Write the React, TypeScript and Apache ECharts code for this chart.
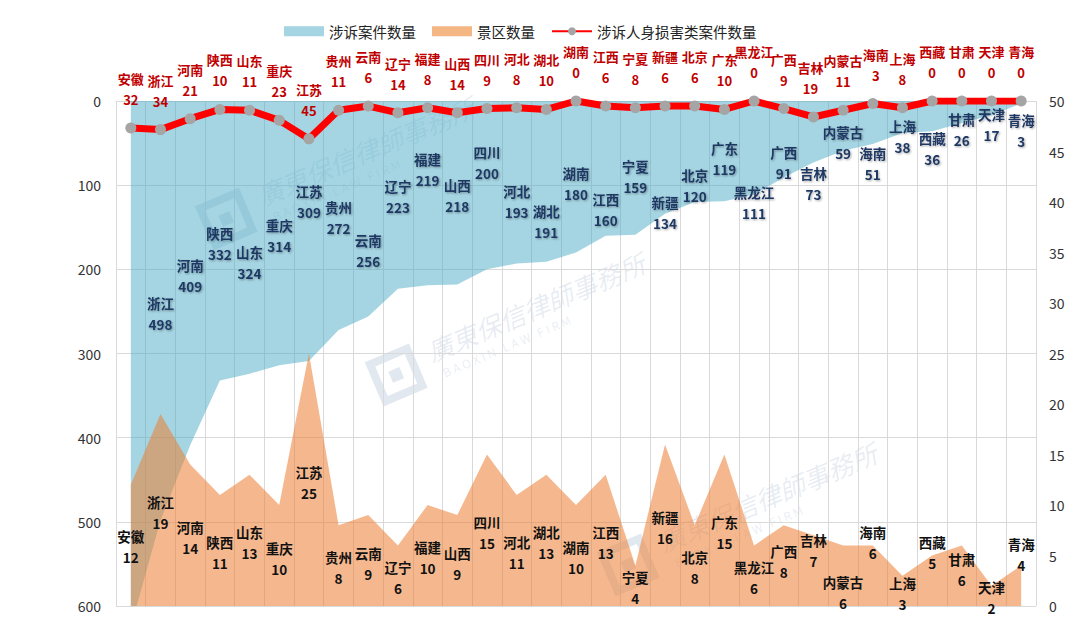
import React, { useEffect, useRef } from "react";
import * as echarts from "echarts";

const categories = [
  "安徽", "浙江", "河南", "陕西", "山东", "重庆", "江苏", "贵州", "云南", "辽宁", "福建",
  "山西", "四川", "河北", "湖北", "湖南", "江西", "宁夏", "新疆", "北京", "广东", "黑龙江",
  "广西", "吉林", "内蒙古", "海南", "上海", "西藏", "甘肃", "天津", "青海",
];

// 涉诉案件数量 (left axis, inverted)
const caseCounts = [
  625, 498, 409, 332, 324, 314, 309, 272, 256, 223, 219,
  218, 200, 193, 191, 180, 160, 159, 134, 120, 119, 111,
  91, 73, 59, 51, 38, 36, 26, 17, 3,
];

// 景区数量 (right axis)
const scenicCounts = [
  12, 19, 14, 11, 13, 10, 25, 8, 9, 6, 10,
  9, 15, 11, 13, 10, 13, 4, 16, 8, 15, 6,
  8, 7, 6, 6, 3, 5, 6, 2, 4,
];

// 涉诉人身损害类案件数量 (left axis, inverted)
const injuryCounts = [
  32, 34, 21, 10, 11, 23, 45, 11, 6, 14, 8,
  14, 9, 8, 10, 0, 6, 8, 6, 6, 10, 0,
  9, 19, 11, 3, 8, 0, 0, 0, 0,
];

const leftTicks = { min: 0, max: 600, interval: 100 };
const rightTicks = { min: 0, max: 50, interval: 5 };

// label placement (pixel offsets of label centre from the data point)
const caseLabelDy = [
  0, -207, -170, -137, -111, -130, -160, -112, -66, -92, -116,
  -89, -107, -62, -40, -69, -26, -58, -1, -17, -43, 8,
  -15, 21, -8, 20, 4, 17, 7, 9, 27,
];
const scenicLabelDy = [
  62, 98, 73, 58, 68, 53, 129, 42, 48, 32, 52,
  48, 78, 58, 68, 52, 68, 22, 83, 42, 78, 32,
  36, 15, 47, -3, 18, -3, 24, 12, -11,
];
const injuryLabelDy = -39;
const injuryLabelDx = [
  0, 0, 0, 0, 0, 0, 0, 0, 0, 0, 0,
  0, 0, 0, 0, 0, 0, 0, 0, 0, 0, 0,
  0, -3, 0, 3, 0, 0, 0, 0, 0,
];

const FONT = "'Noto Sans CJK SC', 'Noto Sans', sans-serif";

function watermark(x: number, y: number, rot: number) {
  return {
    type: "group",
    x,
    y,
    rotation: rot,
    silent: true,
    children: [
      {
        type: "rect",
        shape: { x: -58, y: -22, width: 40, height: 40 },
        style: { fill: "none", stroke: "rgba(70,110,160,0.16)", lineWidth: 8 },
      },
      {
        type: "rect",
        shape: { x: -44, y: -8, width: 12, height: 12 },
        style: { fill: "rgba(70,110,160,0.16)" },
      },
      {
        type: "text",
        x: 0,
        y: -24,
        style: {
          text: "廣東保信律師事務所",
          fontSize: 26,
          fontStyle: "italic",
          fontFamily: FONT,
          fill: "rgba(70,110,160,0.13)",
        },
      },
      {
        type: "text",
        x: 6,
        y: 8,
        style: {
          text: "B A O X I N   L A W   F I R M",
          fontSize: 12,
          fontFamily: FONT,
          fill: "rgba(70,110,160,0.13)",
        },
      },
    ],
  };
}

export default function App() {
  const ref = useRef<HTMLDivElement>(null);

  useEffect(() => {
    if (!ref.current) return;
    const chart = echarts.init(ref.current, null, { renderer: "svg" });

    const option = {
      animation: false,
      backgroundColor: "#ffffff",
      textStyle: { fontFamily: FONT },
      legend: {
        left: 279,
        top: 19,
        itemWidth: 40,
        itemHeight: 10,
        itemGap: 16,
        textStyle: { fontSize: 14.5, color: "#222", fontFamily: FONT },
        data: [
          { name: "涉诉案件数量", icon: "rect", itemStyle: { color: "#a5d5e2" } },
          { name: "景区数量", icon: "rect", itemStyle: { color: "#f4b683" } },
          { name: "涉诉人身损害类案件数量" },
        ],
      },
      grid: { left: 116, right: 44, top: 101, bottom: 15, containLabel: false },
      xAxis: {
        type: "category",
        data: categories,
        boundaryGap: true,
        axisLabel: { show: false },
        axisTick: { show: false },
        axisLine: { show: true, lineStyle: { color: "#d9d9d9" } },
        splitLine: { show: true, interval: 0, lineStyle: { color: "#d9d9d9", width: 1 } },
      },
      yAxis: [
        {
          type: "value",
          inverse: true,
          min: leftTicks.min,
          max: leftTicks.max,
          interval: leftTicks.interval,
          axisLine: { show: false },
          axisTick: { show: false },
          axisLabel: { color: "#333", fontSize: 14, margin: 15, fontFamily: FONT },
          splitLine: { show: true, lineStyle: { color: "#d9d9d9", width: 1 } },
        },
        {
          type: "value",
          min: rightTicks.min,
          max: rightTicks.max,
          interval: rightTicks.interval,
          axisLine: { show: false },
          axisTick: { show: false },
          axisLabel: { color: "#333", fontSize: 14, margin: 13, fontFamily: FONT },
          splitLine: { show: false },
        },
      ],
      graphic: [
        watermark(262, 206, 0.4),
        watermark(432, 362, 0.4),
        watermark(664, 552, 0.4),
      ],
      series: [
        {
          name: "涉诉案件数量",
          type: "line",
          yAxisIndex: 0,
          clip: true,
          symbol: "circle",
          symbolSize: 1,
          itemStyle: { color: "rgba(0,0,0,0)" },
          lineStyle: { width: 0, color: "rgba(0,0,0,0)" },
          areaStyle: { color: "#4BACC6", opacity: 0.5, origin: "start" },
          label: {
            show: true,
            position: "inside",
            formatter: "{b}\n{c}",
            color: "#1F3864",
            fontSize: 13.5,
            fontWeight: "bold",
            lineHeight: 21,
            fontFamily: FONT,
            textShadowColor: "rgba(0,0,0,0.35)",
            textShadowBlur: 2,
            textShadowOffsetX: 1,
            textShadowOffsetY: 1,
          },
          data: caseCounts.map((v, i) => ({
            value: v,
            label: i === 0 ? { show: false } : { offset: [0, caseLabelDy[i]] },
          })),
          z: 1,
        },
        {
          name: "景区数量",
          type: "line",
          yAxisIndex: 1,
          clip: true,
          symbol: "circle",
          symbolSize: 1,
          itemStyle: { color: "rgba(0,0,0,0)" },
          lineStyle: { width: 0, color: "rgba(0,0,0,0)" },
          areaStyle: { color: "#ED7D31", opacity: 0.55, origin: "start" },
          label: {
            show: true,
            position: "inside",
            formatter: "{b}\n{c}",
            color: "#111",
            fontSize: 13.5,
            fontWeight: "bold",
            lineHeight: 21,
            fontFamily: FONT,
          },
          data: scenicCounts.map((v, i) => ({
            value: v,
            label: { offset: [0, scenicLabelDy[i]] },
          })),
          z: 2,
        },
        {
          name: "涉诉人身损害类案件数量",
          type: "line",
          yAxisIndex: 0,
          symbol: "circle",
          symbolSize: 11,
          itemStyle: { color: "#A5A5A5" },
          lineStyle: { width: 7, color: "#FF0000" },
          label: {
            show: true,
            position: "inside",
            formatter: "{b}\n{c}",
            color: "#C00000",
            fontSize: 13,
            fontWeight: "bold",
            lineHeight: 21,
            fontFamily: FONT,
          },
          data: injuryCounts.map((v, i) => ({
            value: v,
            label: { offset: [injuryLabelDx[i], injuryLabelDy] },
          })),
          z: 3,
        },
      ],
    };

    chart.setOption(option as any);
    return () => chart.dispose();
  }, []);

  return (
    <div
      ref={ref}
      style={{ position: "fixed", left: 0, top: 0, width: 1080, height: 621 }}
    />
  );
}
